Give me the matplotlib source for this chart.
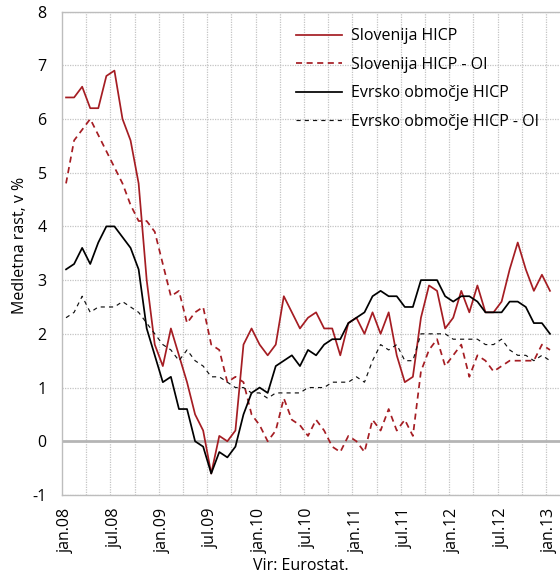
import matplotlib
matplotlib.use("Agg")
import matplotlib.pyplot as plt
import numpy as np

# ---------------- data ----------------
months = list(range(61))  # jan.08 ... jan.13
tick_pos = [0, 6, 12, 18, 24, 30, 36, 42, 48, 54, 60]
tick_labels = ["jan.08", "jul.08", "jan.09", "jul.09", "jan.10", "jul.10",
               "jan.11", "jul.11", "jan.12", "jul.12", "jan.13"]

si_hicp = [6.4, 6.4, 6.6, 6.2, 6.2, 6.8, 6.9, 6.0, 5.6, 4.8,
           3.0, 1.8, 1.4, 2.1, 1.6, 1.1, 0.5, 0.2, -0.6, 0.1,
           0.0, 0.2, 1.8, 2.1, 1.8, 1.6, 1.8, 2.7, 2.4, 2.1,
           2.3, 2.4, 2.1, 2.1, 1.6, 2.2, 2.3, 2.0, 2.4, 2.0,
           2.4, 1.6, 1.1, 1.2, 2.3, 2.9, 2.8, 2.1, 2.3, 2.8,
           2.4, 2.9, 2.4, 2.4, 2.6, 3.2, 3.7, 3.2, 2.8, 3.1,
           2.8]
si_hicp_oi = [4.8, 5.6, 5.8, 6.0, 5.7, 5.4, 5.1, 4.8, 4.4, 4.1,
              4.1, 3.9, 3.3, 2.7, 2.8, 2.2, 2.4, 2.5, 1.8, 1.7,
              1.1, 1.2, 1.1, 0.5, 0.3, 0.0, 0.2, 0.8, 0.4, 0.3,
              0.1, 0.4, 0.2, -0.1, -0.2, 0.1, 0.0, -0.2, 0.4, 0.2,
              0.6, 0.2, 0.4, 0.1, 1.3, 1.7, 1.9, 1.4, 1.6, 1.8,
              1.2, 1.6, 1.5, 1.3, 1.4, 1.5, 1.5, 1.5, 1.5, 1.8,
              1.7]
ea_hicp = [3.2, 3.3, 3.6, 3.3, 3.7, 4.0, 4.0, 3.8, 3.6, 3.2,
           2.1, 1.6, 1.1, 1.2, 0.6, 0.6, 0.0, -0.1, -0.6, -0.2,
           -0.3, -0.1, 0.5, 0.9, 1.0, 0.9, 1.4, 1.5, 1.6, 1.4,
           1.7, 1.6, 1.8, 1.9, 1.9, 2.2, 2.3, 2.4, 2.7, 2.8,
           2.7, 2.7, 2.5, 2.5, 3.0, 3.0, 3.0, 2.7, 2.6, 2.7,
           2.7, 2.6, 2.4, 2.4, 2.4, 2.6, 2.6, 2.5, 2.2, 2.2,
           2.0]
ea_hicp_oi = [2.3, 2.4, 2.7, 2.4, 2.5, 2.5, 2.5, 2.6, 2.5, 2.4,
              2.2, 2.0, 1.8, 1.7, 1.5, 1.7, 1.5, 1.4, 1.2, 1.2,
              1.1, 1.0, 1.0, 0.9, 0.9, 0.8, 0.9, 0.9, 0.9, 0.9,
              1.0, 1.0, 1.0, 1.1, 1.1, 1.1, 1.2, 1.1, 1.5, 1.8,
              1.7, 1.8, 1.5, 1.5, 2.0, 2.0, 2.0, 2.0, 1.9, 1.9,
              1.9, 1.9, 1.8, 1.8, 1.9, 1.7, 1.6, 1.6, 1.5, 1.6,
              1.5]
series_names = ["Slovenija HICP", "Slovenija HICP - OI",
                "Evrsko območje HICP", "Evrsko območje HICP - OI"]

# ---------------- style ----------------
plt.rcParams['font.family'] = ['Open Sans', 'DejaVu Sans']
FS = 11.5
RED = '#a51d23'
GRID = '#c4c4c4'
SPINE = '#bdbdbd'

W, H = 560, 574
fig = plt.figure(figsize=(W / 100, H / 100), dpi=100)
ax_left, ax_right, ax_top, ax_bot = 62, 560, 11.5, 495
ax = fig.add_axes([ax_left / W, 1 - ax_bot / H,
                   (ax_right - ax_left) / W, (ax_bot - ax_top) / H])

ax.set_xlim(-0.5, 61.24)
ax.set_ylim(-1, 8)

# grid
for yv in range(-1, 9):
    if yv == 0:
        continue
    ax.axhline(yv, color=GRID, lw=0.9, ls=(0, (1, 1)), zorder=0)
for xv in np.arange(2.5, 60, 3):
    ax.axvline(xv, color=GRID, lw=0.9, ls=(0, (1, 1)), zorder=0)
ax.axhline(0, color='#b5b5b5', lw=2.0, zorder=1)

ax.plot(months, si_hicp, color=RED, lw=1.25, label=series_names[0], zorder=3)
ax.plot(months, si_hicp_oi, color=RED, lw=1.25, dashes=(3.5, 2.6),
        label=series_names[1], zorder=3)
ax.plot(months, ea_hicp, color='black', lw=1.25, label=series_names[2], zorder=4)
ax.plot(months, ea_hicp_oi, color='#111111', lw=0.85, dashes=(3.5, 3.5),
        label=series_names[3], zorder=4)

for s in ['left', 'top', 'bottom']:
    ax.spines[s].set_color(SPINE)
    ax.spines[s].set_linewidth(1.0)
ax.spines['right'].set_visible(False)

ax.set_yticks(range(-1, 9))
ax.set_yticklabels([str(v) for v in range(-1, 9)], fontsize=FS)
ax.set_xticks(tick_pos)
ax.set_xticklabels(tick_labels, rotation=90, fontsize=FS)
ax.tick_params(axis='both', length=0)
ax.tick_params(axis='y', pad=11)
ax.tick_params(axis='x', pad=9)

fig.text(20 / W, 1 - 245 / H, "Medletna rast, v %", rotation=90,
         ha='center', va='center', fontsize=FS)
fig.text(301 / W, 1 - 566 / H, "Vir: Eurostat.", ha='center', va='center',
         fontsize=FS)

leg = ax.legend(loc='upper left', bbox_to_anchor=(296 / W, 1 - 28.5 / H),
                bbox_transform=fig.transFigure, frameon=False,
                handlelength=2.9, handletextpad=0.55, labelspacing=0.78,
                borderpad=0, borderaxespad=0, fontsize=FS)

fig.savefig("out.png", dpi=100)
